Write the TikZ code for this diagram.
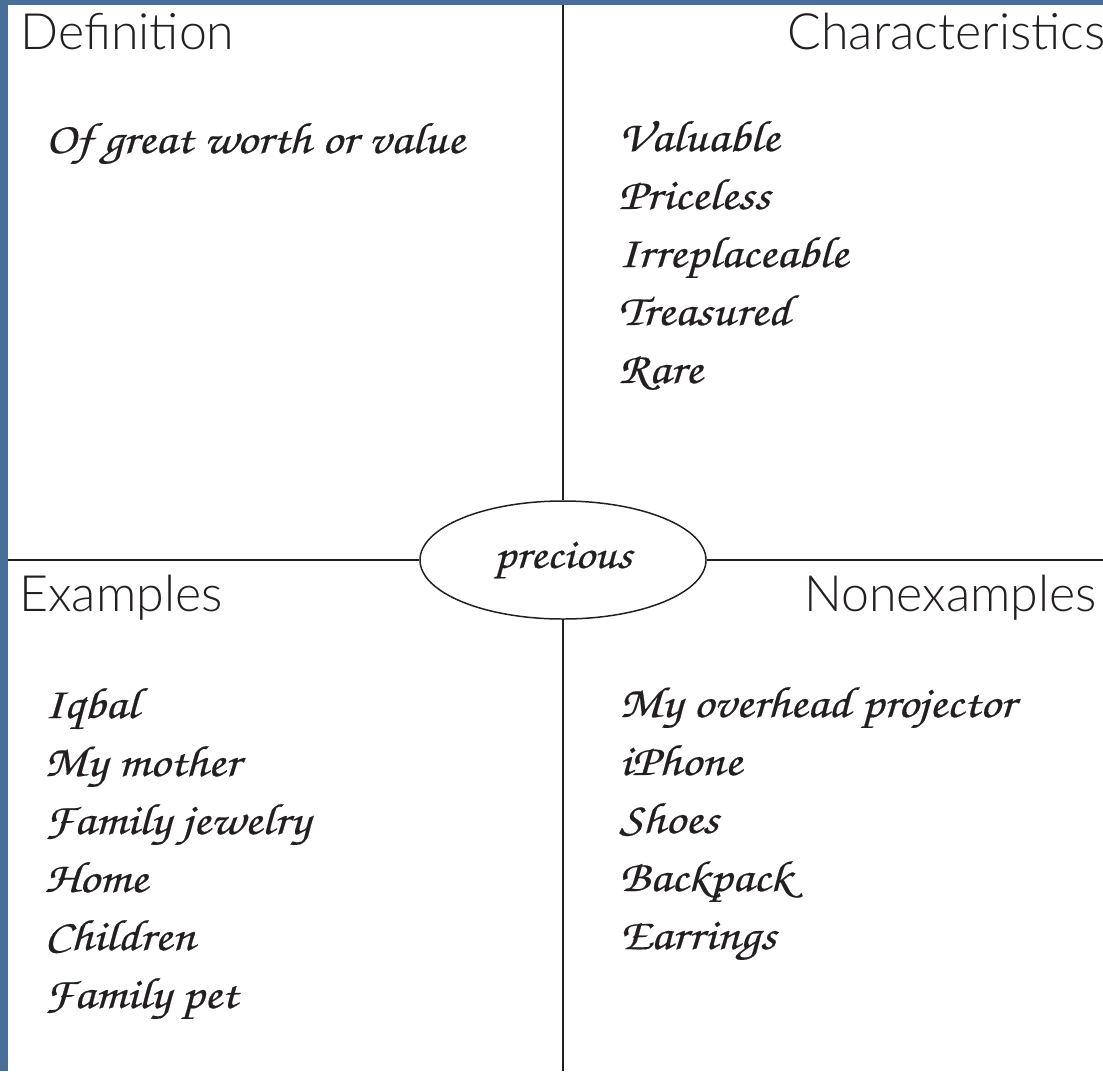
\documentclass[tikz,border=0pt]{standalone}
\usepackage{fontspec, tkz-euclide}
\usetikzlibrary{shapes.geometric}
\IfFontExistsTF{Lato Light}{\newfontfamily\headfont{Lato Light}}{\newfontfamily\headfont{Open Sans}}
\IfFontExistsTF{texgyrechorus-mediumitalic.otf}{\newfontfamily\handfont{texgyrechorus-mediumitalic.otf}[FakeStretch=1.15, FakeBold=0.4]}{\let\handfont\itshape}
\definecolor{ink}{RGB}{35,31,32}
\definecolor{frame}{RGB}{74,110,150}
\tikzset{head/.style = {font=\headfont\fontsize{28.5}{32}\selectfont, text=ink, anchor=base west, inner sep=0pt}}
\tikzset{hand/.style = {font=\handfont\fontsize{25}{28}\selectfont, text=ink, anchor=base west, inner sep=0pt}}
\tikzset{rule/.style = {draw=ink, line width=0.85pt}}

\begin{document}
\begin{tikzpicture}[x=0.2mm, y=-0.2mm]
\useasboundingbox (0,0) rectangle (1103,1071);
\fill[frame] (0,0) rectangle (1103,5);
\fill[frame] (0,0) rectangle (8,1071);
\tkzDefPoints{563/5/T, 563/1071/B, 8/560/L, 1103/560/R}
\node[rule, ellipse, minimum width=57.2mm, minimum height=23.6mm, font=\handfont\fontsize{24}{26}\selectfont, text=ink] (word) at (563,560) {precious};
\draw[rule] (word) -- (T);
\draw[rule] (word) -- (B);
\draw[rule] (word) -- (L);
\draw[rule] (word) -- (R);
\node[head] (def) at (20,50) {Definition};
\node[head] (char) at (787,50) {Characteristics};
\node[head] (ex) at (19,611) {Examples};
\node[head] (nonex) at (804,611) {Nonexamples};
\node[hand] (meaning) at (45,153) {Of great worth or value};
\foreach \w [count=\i] in {Valuable, Priceless, Irreplaceable, Treasured, Rare}
  \node[hand] (char\i) at (618,{93+58*\i}) {\w};
\foreach \w [count=\i] in {Iqbal, My mother, Family jewelry, Home, Children, Family pet}
  \node[hand] (ex\i) at (44,{660+58*\i}) {\w};
\foreach \w [count=\i] in {My overhead projector, iPhone, Shoes, Backpack, Earrings}
  \node[hand] (nonex\i) at (619,{659+58*\i}) {\w};
\end{tikzpicture}
\end{document}
